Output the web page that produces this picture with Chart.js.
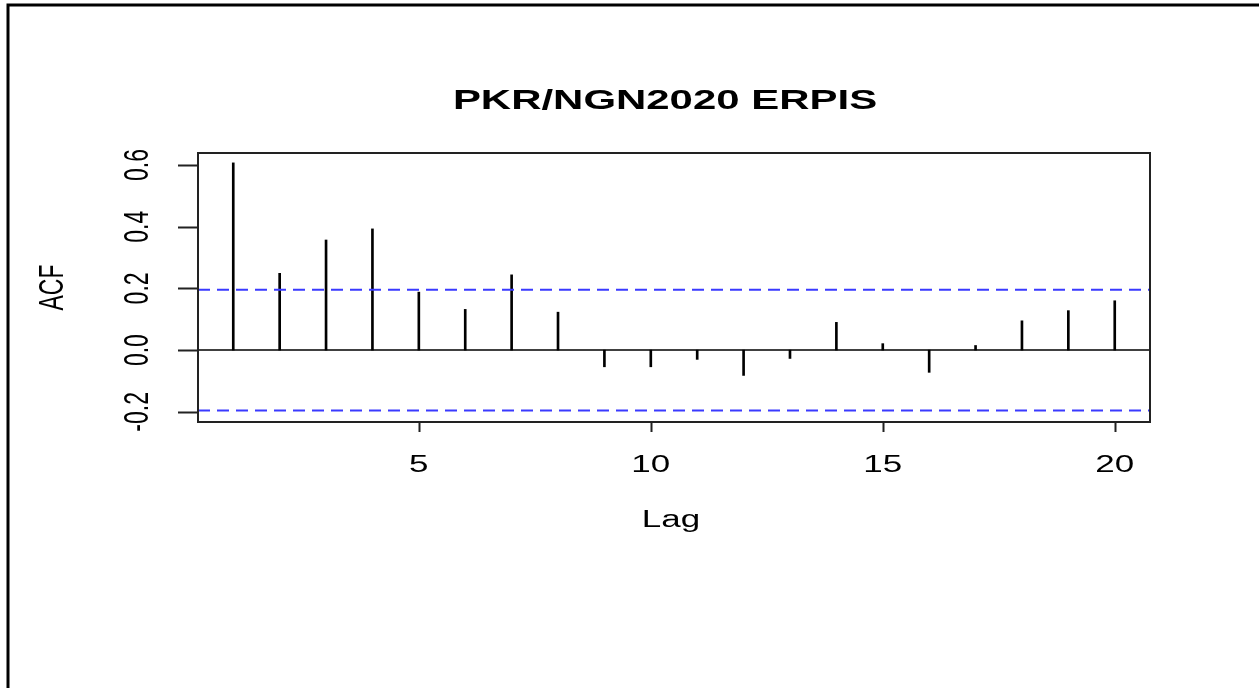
<!DOCTYPE html>
<html>
<head>
<meta charset="utf-8">
<script src="https://cdn.jsdelivr.net/npm/chart.js"></script>
<style>
  html, body { margin: 0; padding: 0; background: #fff; }
  canvas { display: block; }
</style>
</head>
<body>
<canvas id="acf-chart" width="1259" height="688"></canvas>
<script>
// ACF of the series, lag 1..20
var lags = [1, 2, 3, 4, 5, 6, 7, 8, 9, 10, 11, 12, 13, 14, 15, 16, 17, 18, 19, 20];
var acfValues = [0.607, 0.249, 0.357, 0.393, 0.188, 0.132, 0.244, 0.123, -0.054, -0.054,
                 -0.030, -0.082, -0.027, 0.090, 0.021, -0.072, 0.015, 0.095, 0.128, 0.160];
var confLimit = 0.196;

var xTicks = [5, 10, 15, 20];
var yTicks = [-0.2, 0, 0.2, 0.4, 0.6];
var yTickLabels = ['-0.2', '0.0', '0.2', '0.4', '0.6'];
var xRange = [0.24, 20.76];
var yRange = [-0.233, 0.639];

var chartTitle = 'PKR/NGN2020 ERPIS';
var xAxisTitle = 'Lag';
var yAxisTitle = 'ACF';

// the original graphic was stretched sideways, so text is too
var stretch = 1.52;
var fontFamily = "'Liberation Sans', Arial, sans-serif";

function stretchedText(ctx, text, x, y, font, rotated) {
  ctx.save();
  ctx.translate(x, y);
  ctx.scale(stretch, 1);
  if (rotated) ctx.rotate(-Math.PI / 2);
  ctx.font = font;
  ctx.fillStyle = '#000';
  ctx.textAlign = 'center';
  ctx.textBaseline = 'alphabetic';
  ctx.fillText(text, 0, 0);
  ctx.restore();
}

var rAxes = {
  id: 'rAxes',
  afterDraw: function(chart) {
    var ctx = chart.ctx;
    var area = chart.chartArea;
    var xs = chart.scales.x, ys = chart.scales.y;

    ctx.save();
    // page frame
    ctx.strokeStyle = '#000';
    ctx.lineWidth = 3;
    ctx.beginPath();
    ctx.moveTo(8, 688);
    ctx.lineTo(8, 5);
    ctx.lineTo(1259, 5);
    ctx.stroke();

    // plot box
    ctx.strokeStyle = '#222';
    ctx.lineWidth = 2;
    ctx.strokeRect(area.left, area.top, area.right - area.left, area.bottom - area.top);

    // x axis ticks
    ctx.beginPath();
    xTicks.forEach(function(v) {
      var px = Math.round(xs.getPixelForValue(v)) + 0.5;
      ctx.moveTo(px, area.bottom);
      ctx.lineTo(px, area.bottom + 10);
    });
    // y axis ticks
    yTicks.forEach(function(v) {
      var py = Math.round(ys.getPixelForValue(v)) + 0.5;
      ctx.moveTo(area.left, py);
      ctx.lineTo(area.left - 20, py);
    });
    ctx.stroke();
    ctx.restore();

    var labelFont = '23px ' + fontFamily;
    xTicks.forEach(function(v) {
      stretchedText(ctx, String(v), xs.getPixelForValue(v), area.bottom + 50, labelFont, false);
    });
    yTicks.forEach(function(v, i) {
      stretchedText(ctx, yTickLabels[i], area.left - 50, ys.getPixelForValue(v), labelFont, true);
    });

    stretchedText(ctx, chartTitle, 665, 109, 'bold 27.6px ' + fontFamily, false);
    stretchedText(ctx, xAxisTitle, 671, 527, labelFont, false);
    stretchedText(ctx, yAxisTitle, 63, (area.top + area.bottom) / 2, labelFont, true);
  }
};

var spikes = lags.map(function(l, i) { return { x: l, y: acfValues[i] }; });

new Chart(document.getElementById('acf-chart'), {
  type: 'bar',
  data: {
    datasets: [
      {
        type: 'line',
        data: [{ x: xRange[0], y: confLimit }, { x: xRange[1], y: confLimit }],
        borderColor: '#3a3aff',
        borderWidth: 2,
        borderDash: [12, 7],
        pointRadius: 0
      },
      {
        type: 'line',
        data: [{ x: xRange[0], y: -confLimit }, { x: xRange[1], y: -confLimit }],
        borderColor: '#3a3aff',
        borderWidth: 2,
        borderDash: [12, 7],
        pointRadius: 0
      },
      {
        type: 'line',
        data: [{ x: xRange[0], y: 0 }, { x: xRange[1], y: 0 }],
        borderColor: '#000',
        borderWidth: 1.5,
        pointRadius: 0
      },
      {
        type: 'bar',
        data: spikes,
        backgroundColor: '#000',
        borderWidth: 0,
        barThickness: 2
      }
    ]
  },
  options: {
    responsive: false,
    animation: false,
    layout: { padding: { left: 198, right: 109, top: 153, bottom: 266 } },
    plugins: {
      legend: { display: false },
      title: { display: false },
      tooltip: { enabled: false }
    },
    scales: {
      x: { type: 'linear', min: xRange[0], max: xRange[1], offset: false, display: false },
      y: { type: 'linear', min: yRange[0], max: yRange[1], display: false }
    }
  },
  plugins: [rAxes]
});
</script>
</body>
</html>
